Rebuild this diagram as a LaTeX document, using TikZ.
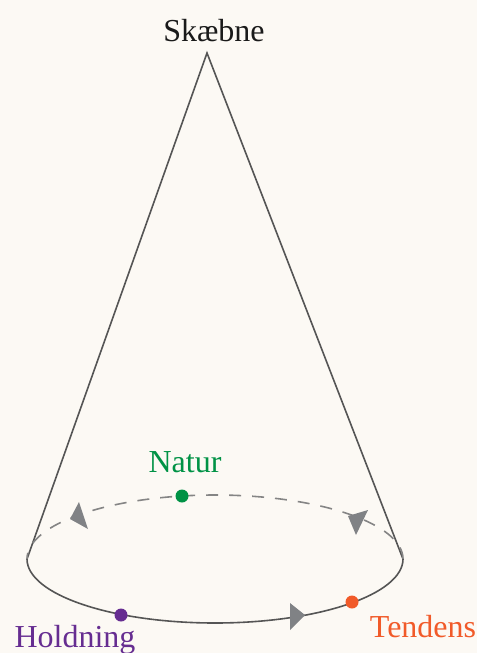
\documentclass[tikz,border=0pt]{standalone}
\usepackage{fontspec}
\setmainfont{Liberation Serif}
\usepackage{xcolor}
\definecolor{bgcol}{HTML}{FCF9F4}
\definecolor{conegray}{HTML}{555555}
\definecolor{dashgray}{HTML}{858585}
\definecolor{arrowgray}{HTML}{808285}
\definecolor{natgreen}{HTML}{009245}
\definecolor{holdpurple}{HTML}{662D91}
\definecolor{tendorange}{HTML}{F15A29}
\definecolor{textblack}{HTML}{1A1A1A}
\begin{document}
\begin{tikzpicture}[x=1pt,y=-1pt,
  coneline/.style={draw=conegray, line width=1.6pt},
  dashline/.style={draw=dashgray, line width=1.6pt, dash pattern=on 12pt off 11pt},
  arrowfill/.style={fill=arrowgray},
  dot/.style={circle, inner sep=0pt, minimum size=13pt},
  lbl/.style={inner sep=0pt, font=\fontsize{32}{36}\selectfont}]
\fill[bgcol] (0,0) rectangle (477,653);
\useasboundingbox (0,0) rectangle (477,653);
\coordinate (apex) at (207,53);
\coordinate (L) at (27,559);
\coordinate (R) at (403,559);
\draw[coneline] (L) -- (apex) -- (R);
\draw[dashline] (R) arc[start angle=0, end angle=180, x radius=188pt, y radius=64pt];
\draw[coneline] (L) arc[start angle=180, end angle=360, x radius=188pt, y radius=64pt];
% arrowheads
\fill[arrowfill] (290,603) -- (305,615) -- (290,630) -- cycle;
\fill[arrowfill] (79,502) -- (70,519) -- (88,529) -- cycle;
\fill[arrowfill] (348,516) -- (368,510) -- (356,535) -- cycle;
% dots
\node[dot, fill=natgreen] (natur) at (182,496) {};
\node[dot, fill=holdpurple] (hold) at (121,615) {};
\node[dot, fill=tendorange] (tend) at (352,602) {};
% labels
\node[lbl, anchor=base, text=textblack] (skaebne) at (214,41) {Skæbne};
\node[lbl, anchor=base, text=natgreen] (naturlbl) at (185,472) {Natur};
\node[lbl, anchor=base, text=holdpurple] (holdlbl) at (75,647) {Holdning};
\node[lbl, anchor=base, text=tendorange] (tendlbl) at (423,637) {Tendens};
\end{tikzpicture}
\end{document}
